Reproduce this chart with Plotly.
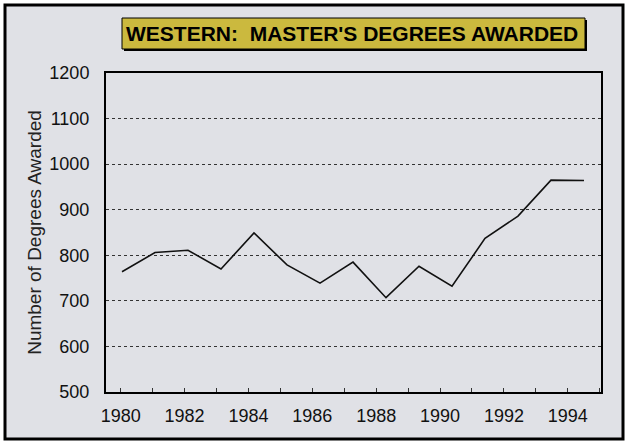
import plotly.graph_objects as go

years = [1980, 1981, 1982, 1983, 1984, 1985, 1986, 1987, 1988, 1989, 1990, 1991, 1992, 1993, 1994]
degrees = [764, 806, 811, 770, 849, 779, 739, 785, 707, 776, 732, 837, 886, 965, 964]
title_text = "WESTERN:  MASTER'S DEGREES AWARDED"
y_title = "Number of Degrees Awarded"

W, H = 634, 443
L, R, T, B = 106, 601, 73, 392

def px(x):
    return (x - L) / (R - L)

def py(y):
    return (B - y) / (B - T)

fig = go.Figure()
fig.add_trace(go.Scatter(x=years, y=degrees, mode="lines",
                         line=dict(color="#111111", width=1.6),
                         xaxis="x", yaxis="y", showlegend=False))
# invisible helper so the label axis renders
fig.add_trace(go.Scatter(x=years, y=degrees, mode="lines", opacity=0,
                         hoverinfo="skip", xaxis="x2", yaxis="y", showlegend=False))

font = "Liberation Sans, Arial, sans-serif"

fig.update_layout(
    width=W, height=H,
    margin=dict(l=L, r=W - R, t=T, b=H - B, pad=0),
    paper_bgcolor="#ffffff",
    plot_bgcolor="#e8e9ee",
    font=dict(family=font, color="#111111"),
    xaxis=dict(range=[1979.515, 1994.515], showticklabels=False, ticks="",
               showgrid=False, zeroline=False, showline=True, linecolor="#000",
               linewidth=2, mirror=True),
    xaxis2=dict(range=[1979.54, 1995.04], overlaying="x", anchor="y", side="bottom",
                tickmode="linear", tick0=1980, dtick=2, ticks="inside", ticklen=4,
                tickcolor="#333", tickwidth=1,
                minor=dict(dtick=1, tick0=1980, ticks="inside", ticklen=4, tickcolor="#333"),
                tickfont=dict(size=18, color="#111"), ticklabelstandoff=11,
                showgrid=False, zeroline=False, showline=False),
    yaxis=dict(range=[500, 1200], tickmode="linear", tick0=500, dtick=100,
               ticks="", tickfont=dict(size=18, color="#111"), ticklabelstandoff=11,
               showgrid=True, gridcolor="#333333", gridwidth=1, griddash="dot",
               zeroline=False, showline=True, linecolor="#000", linewidth=2, mirror=True,
               title=dict(text=y_title, font=dict(size=19, color="#222"), standoff=3)),
)

shapes = [
    # outer frame
    dict(type="rect", xref="paper", yref="paper", layer="below",
         x0=px(5), x1=px(623), y0=py(439), y1=py(5),
         fillcolor="#e0e1e6", line=dict(color="#000", width=3)),
    # title box shadow
    dict(type="rect", xref="paper", yref="paper", layer="above",
         x0=px(124), x1=px(587), y0=py(51), y1=py(20),
         fillcolor="#000", line=dict(width=0)),
    # title box
    dict(type="rect", xref="paper", yref="paper", layer="above",
         x0=px(122), x1=px(585), y0=py(49), y1=py(18),
         fillcolor="#cbb93e", line=dict(color="#000", width=1)),
]
fig.update_layout(shapes=shapes)

fig.add_annotation(text="<b>" + title_text + "</b>", xref="paper", yref="paper",
                   x=px(352), y=py(34), xanchor="center", yanchor="middle",
                   showarrow=False, font=dict(size=21, color="#000", family=font))

fig.write_html("out.html", config={"displayModeBar": False},
               post_script="document.body.style.margin='0';document.body.style.overflow='hidden';")
